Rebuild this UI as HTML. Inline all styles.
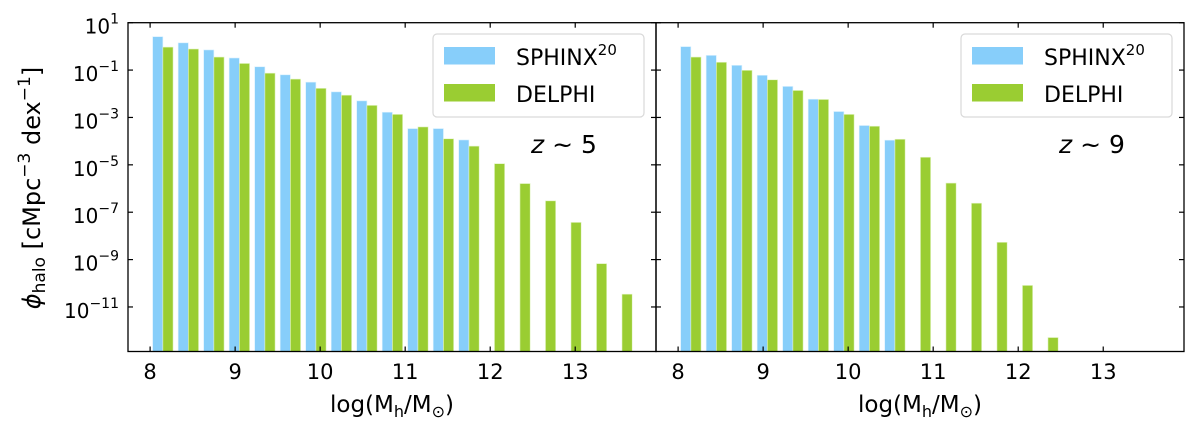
<!DOCTYPE html>
<html><head><meta charset="utf-8"><style>
html,body{margin:0;padding:0;background:#fff;}
svg{display:block;font-family:"DejaVu Sans","Liberation Sans",sans-serif;}
</style></head><body>
<svg id="chart" width="1200" height="433" viewBox="0 0 1200 433" xmlns="http://www.w3.org/2000/svg">
<g id="root"></g>
</svg>
<script>
const binStarts = [8.0,8.3,8.6,8.9,9.2,9.5,9.8,10.1,10.4,10.7,11.0,11.3,11.6,11.9,12.2,12.5,12.8,13.1,13.4];
const sphinxZ5 = [0.41,0.15,-0.15,-0.49,-0.86,-1.2,-1.51,-1.92,-2.3,-2.78,-3.47,-3.47,-3.95];
const delphiZ5 = [-0.03,-0.11,-0.45,-0.72,-1.13,-1.38,-1.77,-2.06,-2.49,-2.87,-3.4,-3.9,-4.21,-4.95,-5.79,-6.52,-7.43,-9.17,-10.46];
const sphinxZ9 = [-0.01,-0.38,-0.8,-1.22,-1.69,-2.23,-2.75,-3.34,-3.96];
const delphiZ9 = [-0.45,-0.67,-1.01,-1.41,-1.86,-2.24,-2.87,-3.37,-3.92,-4.68,-5.77,-6.62,-8.27,-10.09,-12.29];
const xTicks = [8,9,10,11,12,13];
const yTickExps = [1,-1,-3,-5,-7,-9,-11];
const panelLabels = ["5","9"];

const NS="http://www.w3.org/2000/svg";
const root=document.getElementById('root');
function el(tag,attrs,parent){const e=document.createElementNS(NS,tag);for(const k in attrs)e.setAttribute(k,attrs[k]);(parent||root).appendChild(e);return e;}
const X0=7.74,X1=13.95,YTOP=1,YBOT=-12.88,PT=22.7,PB=351.5;
function yPix(e){return PT+(YTOP-e)/(YTOP-YBOT)*(PB-PT);}
const panels=[{l:128,r:656,s:sphinxZ5,d:delphiZ5},{l:656,r:1184,s:sphinxZ9,d:delphiZ9}];
panels.forEach((p,pi)=>{
  const xPix=v=>p.l+(v-X0)/(X1-X0)*(p.r-p.l);
  const g=el('g',{});
  
  
  p.s.forEach((v,i)=>{
    const x=xPix(binStarts[i]+0.03),w=xPix(binStarts[i]+0.15)-x;
    const r=el('rect',{x:x,y:yPix(v),width:w,height:PB-yPix(v),fill:'#87cefa',stroke:'#d8f0ff','stroke-width':0.6},g);
    
    
  });
  p.d.forEach((v,i)=>{
    const x=xPix(binStarts[i]+0.15),w=xPix(binStarts[i]+0.27)-x;
    const r=el('rect',{x:x,y:yPix(v),width:w,height:PB-yPix(v),fill:'#9acd32',stroke:'#e4f5c8','stroke-width':0.6},g);
    
    
  });
  xTicks.forEach(t=>{
    const x=xPix(t);
    el('line',{x1:x,x2:x,y1:PB,y2:PB-5,stroke:'#000','stroke-width':1.2},g);
    el('line',{x1:x,x2:x,y1:PT,y2:PT+5,stroke:'#000','stroke-width':1.2},g);
    const tl=el('text',{x:x,y:379,'font-size':21,'text-anchor':'middle'},g);
    tl.textContent=t;
    
    
  });
  yTickExps.forEach(e=>{
    const y=yPix(e);
    el('line',{x1:p.l,x2:p.l+5,y1:y,y2:y,stroke:'#000','stroke-width':1.2},g);
    el('line',{x1:p.r,x2:p.r-5,y1:y,y2:y,stroke:'#000','stroke-width':1.2},g);
  });
  const fr=el('rect',{x:p.l,y:PT,width:p.r-p.l,height:PB-PT,fill:'none',stroke:'#000','stroke-width':1.3},g);
  
  
  const o=p.l-128;
  const lg=el('g',{},g);
  
  
  el('rect',{x:433+o,y:34,width:211,height:83,rx:4,fill:'#fff','fill-opacity':0.8,stroke:'#d9d9d9','stroke-width':1.2},lg);
  el('rect',{x:444+o,y:47,width:51,height:17.5,fill:'#87cefa'},lg);
  el('rect',{x:444+o,y:84,width:51,height:17.5,fill:'#9acd32'},lg);
  const t1=el('text',{x:516+o,y:65,'font-size':22},lg);
  t1.innerHTML='SPHINX<tspan dy="-10" font-size="15">20</tspan>';
  
  
  const t2=el('text',{x:516+o,y:102,'font-size':22},lg);
  t2.textContent='DELPHI';
  
  
  const zl=el('text',{x:531+o,y:153,'font-size':25},g);
  zl.innerHTML='<tspan font-style="italic">z</tspan> ~ '+panelLabels[pi];
  
  
  const xl=el('text',{x:(p.l+p.r)/2,y:412,'font-size':23,'text-anchor':'middle'},g);
  xl.innerHTML='log(M<tspan dy="5" font-size="16">h</tspan><tspan dy="-5">/M</tspan><tspan dy="5" font-size="16">⊙</tspan><tspan dy="-5">)</tspan>';
  
  
});
yTickExps.forEach(e=>{
  const t=el('text',{x:119,y:yPix(e)+11,'font-size':20,'text-anchor':'end'});
  t.innerHTML='10<tspan dy="-10" font-size="14">'+(e<0?'−'+(-e):e)+'</tspan>';
  
  
});
const yt=el('text',{x:0,y:0,'font-size':24,'text-anchor':'middle',transform:'translate(40,188) rotate(-90)'});
yt.innerHTML='<tspan font-style="italic">ϕ</tspan><tspan dy="5" font-size="17">halo</tspan><tspan dy="-5"> [cMpc</tspan><tspan dy="-10" font-size="17">−3</tspan><tspan dy="10"> dex</tspan><tspan dy="-10" font-size="17">−1</tspan><tspan dy="10">]</tspan>';


</script>
</body></html>
